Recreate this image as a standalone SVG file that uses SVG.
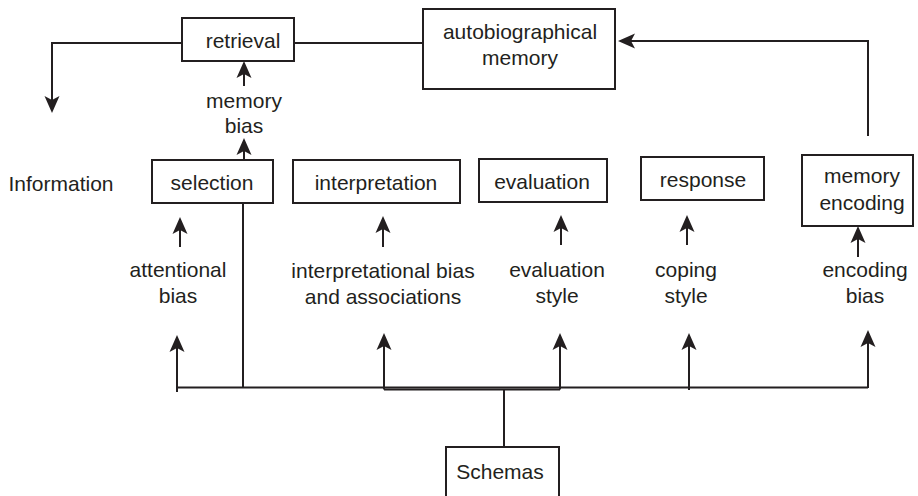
<svg xmlns="http://www.w3.org/2000/svg" width="918" height="496" viewBox="0 0 918 496">
<style>
.box{fill:#fff;stroke:#231f20;stroke-width:2}
.ln{fill:none;stroke:#231f20;stroke-width:2}
.arr{fill:none;stroke:#231f20;stroke-width:2;marker-end:url(#ah)}
text{font-family:"Liberation Sans",Arial,sans-serif;font-size:21px;fill:#231f20;text-anchor:middle}
</style>
<defs>
<marker id="ah" markerUnits="userSpaceOnUse" markerWidth="20" markerHeight="18" refX="14" refY="7.5" orient="auto" overflow="visible">
<path d="M0,0 L17,7.5 L0,15 L4,7.5 z" fill="#231f20"/>
</marker>
</defs>
<rect width="918" height="496" fill="#fff"/>
<g id="connectors">
<path class="arr" d="M182,43 H52 V110"/>
<path class="ln" d="M294,43 H423"/>
<path class="arr" d="M868,136 V41 H621"/>
<path class="arr" d="M244,86 V64"/>
<path class="arr" d="M244,160 V141"/>
<path class="arr" d="M180,247 V220"/>
<path class="arr" d="M383,247 V219"/>
<path class="arr" d="M561,245 V218"/>
<path class="arr" d="M687,245 V218"/>
<path class="arr" d="M858,257 V229"/>
<path class="ln" d="M243,203 V387"/>
<path class="ln" d="M177,387.5 H868"/>
<path class="arr" d="M177,392 V338"/>
<path class="arr" d="M384,389.5 V336"/>
<path class="arr" d="M560,389.5 V336"/>
<path class="arr" d="M689,390 V336"/>
<path class="arr" d="M868,388 V333"/>
<path class="ln" d="M384,389.5 H560"/>
<path class="ln" d="M504,389 V447"/>
</g>
<g id="retrieval"><rect class="box" x="182" y="18" width="112" height="43"/><text x="243" y="48">retrieval</text></g>
<g id="autobiographical"><rect class="box" x="423" y="9" width="192" height="80"/><text x="520" y="39">autobiographical</text><text x="520" y="65">memory</text></g>
<g id="memory-bias"><text x="244" y="108">memory</text><text x="244" y="133">bias</text></g>
<g id="information"><text x="61" y="191">Information</text></g>
<g id="selection"><rect class="box" x="152" y="160" width="121" height="43"/><text x="212" y="190">selection</text></g>
<g id="interpretation"><rect class="box" x="293" y="160" width="167" height="43"/><text x="376" y="190">interpretation</text></g>
<g id="evaluation"><rect class="box" x="479" y="159" width="128" height="43"/><text x="542" y="189">evaluation</text></g>
<g id="response"><rect class="box" x="641" y="157" width="123" height="43"/><text x="703" y="187">response</text></g>
<g id="memory-encoding"><rect class="box" x="802" y="155" width="111" height="71"/><text x="862" y="183">memory</text><text x="862" y="210">encoding</text></g>
<g id="attentional-bias"><text x="178" y="277">attentional</text><text x="178" y="303">bias</text></g>
<g id="interpretational-bias"><text x="383" y="278">interpretational bias</text><text x="383" y="304">and associations</text></g>
<g id="evaluation-style"><text x="557" y="277">evaluation</text><text x="557" y="303">style</text></g>
<g id="coping-style"><text x="686" y="277">coping</text><text x="686" y="303">style</text></g>
<g id="encoding-bias"><text x="865" y="277">encoding</text><text x="865" y="303">bias</text></g>
<g id="schemas"><rect class="box" x="446" y="447" width="113" height="53"/><text x="500" y="479">Schemas</text></g>
</svg>
